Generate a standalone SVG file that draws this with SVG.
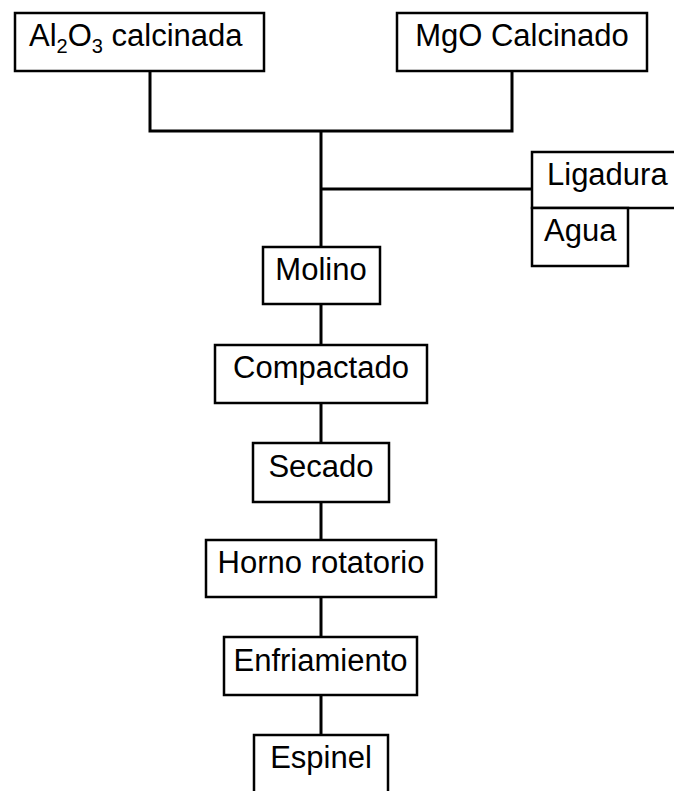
<svg xmlns="http://www.w3.org/2000/svg" width="674" height="791" viewBox="0 0 674 791">
<style>
.box{fill:#fff;stroke:#000;stroke-width:2.5}
.lbl{font-family:"Liberation Sans",Arial,sans-serif;font-size:31px;fill:#000}
.c{text-anchor:middle}
.wire{fill:none;stroke:#000;stroke-width:3}
</style>
<rect width="674" height="791" fill="#fff"/>
<g id="connectors">
<polyline class="wire" points="150,71 150,131 512,131 512,71"/>
<line class="wire" x1="321" y1="131" x2="321" y2="247"/>
<line class="wire" x1="321" y1="189" x2="532" y2="189"/>
<line class="wire" x1="321" y1="304" x2="321" y2="345"/>
<line class="wire" x1="321" y1="403" x2="321" y2="443"/>
<line class="wire" x1="321" y1="502" x2="321" y2="540"/>
<line class="wire" x1="321" y1="597" x2="321" y2="637"/>
<line class="wire" x1="321" y1="695" x2="321" y2="735"/>
</g>
<g id="al2o3">
<rect class="box" x="15" y="13" width="249" height="58"/>
<text class="lbl" x="29" y="46">Al<tspan font-size="20" dy="7">2</tspan><tspan dy="-7">O</tspan><tspan font-size="20" dy="7">3</tspan><tspan dy="-7"> calcinada</tspan></text>
</g>
<g id="mgo">
<rect class="box" x="397" y="13" width="250" height="58"/>
<text class="lbl c" x="522" y="46">MgO Calcinado</text>
</g>
<g id="ligadura">
<rect class="box" x="532" y="152" width="146" height="56"/>
<text class="lbl" x="547" y="185">Ligadura</text>
</g>
<g id="agua">
<rect class="box" x="532" y="208" width="96" height="58"/>
<text class="lbl" x="544" y="241">Agua</text>
</g>
<g id="molino">
<rect class="box" x="263" y="247" width="117" height="57"/>
<text class="lbl c" x="321" y="280">Molino</text>
</g>
<g id="compactado">
<rect class="box" x="215" y="345" width="212" height="58"/>
<text class="lbl c" x="321" y="378">Compactado</text>
</g>
<g id="secado">
<rect class="box" x="253" y="443" width="136" height="59"/>
<text class="lbl c" x="321" y="477">Secado</text>
</g>
<g id="horno">
<rect class="box" x="206" y="540" width="230" height="57"/>
<text class="lbl c" x="321" y="573">Horno rotatorio</text>
</g>
<g id="enfriamiento">
<rect class="box" x="224" y="637" width="193" height="58"/>
<text class="lbl c" x="320.5" y="671">Enfriamiento</text>
</g>
<g id="espinel">
<rect class="box" x="254" y="735" width="134" height="70"/>
<text class="lbl c" x="321" y="768">Espinel</text>
</g>
</svg>
